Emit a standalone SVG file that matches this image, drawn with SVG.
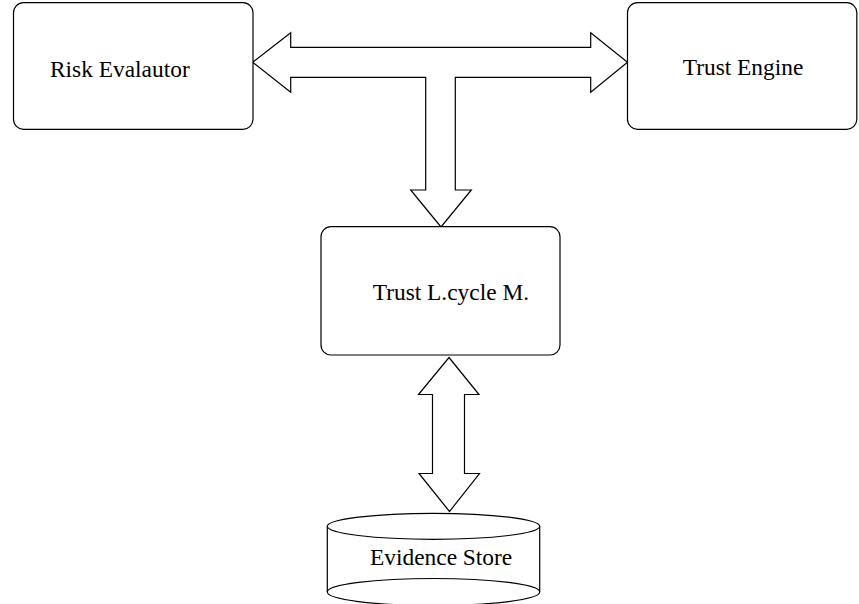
<svg xmlns="http://www.w3.org/2000/svg" width="859" height="604" viewBox="0 0 859 604">
<style>
.box{fill:#fff;stroke:#000;stroke-width:1.2}
.arr{fill:#fff;stroke:#000;stroke-width:1.2;stroke-linejoin:miter}
.lbl{font-family:"Liberation Serif","Times New Roman",serif;font-size:23.4px;fill:#000}
</style>
<rect width="859" height="604" fill="#fff"/>
<g id="connectors">
<polygon class="arr" points="252.7,62.3 290.7,32.7 290.7,47.3 590.7,47.3 590.7,32.7 627.5,62.3 590.7,92.3 590.7,77.3 455.3,77.3 455.3,190 471.3,190 441,227 410.7,190 425.7,190 425.7,77.3 290.7,77.3 290.7,92.3"/>
<polygon class="arr" points="449,357.5 479,394.5 464.5,394.5 464.5,473.5 479.5,473.5 449.5,511.5 419,473.5 432.5,473.5 432.5,394.5 418.5,394.5"/>
</g>
<g id="risk-evaluator">
<rect class="box" x="13.5" y="2.7" width="239.5" height="126.6" rx="10"/>
<text class="lbl" x="50" y="77">Risk Evalautor</text>
</g>
<g id="trust-engine">
<rect class="box" x="627.5" y="2.7" width="229.3" height="126.6" rx="10"/>
<text class="lbl" x="682.7" y="75">Trust Engine</text>
</g>
<g id="trust-lifecycle">
<rect class="box" x="321" y="226.7" width="239" height="128.3" rx="10"/>
<text class="lbl" x="372.7" y="300">Trust L.cycle M.</text>
</g>
<g id="evidence-store">
<path class="box" d="M327.3,526.3 L327.3,592 A106.2,13.5 0 0 0 539.7,592 L539.7,526.3"/>
<ellipse class="box" cx="433.5" cy="526.3" rx="106.2" ry="13"/>
<path d="M327.3,592 A106.2,13.5 0 0 1 539.7,592" fill="none" stroke="#000" stroke-width="1.2"/>
<text class="lbl" x="370" y="565">Evidence Store</text>
</g>
</svg>
